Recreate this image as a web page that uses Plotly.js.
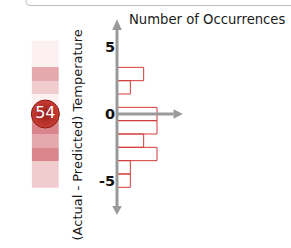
<!DOCTYPE html>
<html><head><meta charset="utf-8">
<script src="https://cdn.plot.ly/plotly-3.0.1.min.js"></script>
<style>html,body{margin:0;padding:0;background:#fff;}#chart{width:291px;height:248px;}</style>
</head><body><div id="chart"></div>
<script>
// ---- data ----
const binCenters = [5, 4, 3, 2, 1, 0, -1, -2, -3, -4, -5];
const occurrences = [0, 0, 2, 1, 0, 3, 3, 2, 3, 1, 1];
const yTickValues = [-5, 0, 5];
const yTickLabels = ['-5', '0', '5'];
const badgeValue = '54';
const xTitle = 'Number of Occurrences';
const yTitle = '(Actual - Predicted) Temperature';

// ---- geometry ----
const W = 291, H = 248, T = 7, B = 27;
const unit = 13.33;
const plotH = H - T - B;
const yHalf = plotH / 2 / unit;
const x0px = 117;
const xPad = 0.6;
const xDomStart = (x0px - xPad * unit) / W;
const xMax = (W - x0px) / unit;
const px = v => v / W;
const py = v => (H - B - v) / plotH;
const axisGray = '#9a9a9a';

const heat = {
  type: 'heatmap', x: [0], y: binCenters,
  z: occurrences.map(v => [v]),
  xaxis: 'x2', yaxis: 'y',
  zmin: 0, zmax: 3, showscale: false,
  colorscale: [[0, '#fcf0f0'], [1, '#da858c']],
  hoverinfo: 'skip'
};
const bars = {
  type: 'bar', orientation: 'h', y: binCenters, x: occurrences,
  width: 1, base: 0,
  marker: {color: 'rgba(255,255,255,0)', line: {color: '#d23a3a', width: 1}},
  xaxis: 'x', yaxis: 'y', hoverinfo: 'skip'
};
const badge = {
  type: 'scatter', mode: 'markers+text', x: [0], y: [0], text: [badgeValue],
  xaxis: 'x2', yaxis: 'y', cliponaxis: false,
  textposition: 'middle center',
  textfont: {family: 'DejaVu Sans', size: 16, color: '#ffffff'},
  marker: {size: 28, color: '#c93d33', gradient: {type: 'radial', color: '#951f1a'},
           line: {color: '#8a1c17', width: 1}},
  hoverinfo: 'skip'
};

const shapes = [
  {type: 'line', xref: 'x', yref: 'y', x0: 0, x1: 0, y0: -6.9, y1: 6.3, line: {color: axisGray, width: 3}},
  {type: 'path', xref: 'x', yref: 'y', path: 'M -0.36,6.3 L 0.36,6.3 L 0,7.1 Z', fillcolor: axisGray, line: {width: 0}},
  {type: 'path', xref: 'x', yref: 'y', path: 'M -0.36,-6.9 L 0.36,-6.9 L 0,-7.58 Z', fillcolor: axisGray, line: {width: 0}},
  {type: 'line', xref: 'x', yref: 'y', x0: 0, x1: 4.24, y0: 0, y1: 0, line: {color: axisGray, width: 3}},
  {type: 'path', xref: 'x', yref: 'y', path: 'M 4.24,-0.36 L 4.24,0.36 L 4.94,0 Z', fillcolor: axisGray, line: {width: 0}},
  {type: 'path', xref: 'paper', yref: 'paper',
   path: `M ${px(26)},${py(-5)} L ${px(26)},${py(1.5)} Q ${px(26)},${py(5.5)} ${px(30)},${py(5.5)} L ${px(300)},${py(5.5)}`,
   line: {color: '#bdbdbd', width: 1}}
];

const layout = {
  width: W, height: H,
  margin: {l: 0, r: 0, t: T, b: B},
  paper_bgcolor: '#ffffff', plot_bgcolor: 'rgba(0,0,0,0)',
  showlegend: false,
  xaxis: {domain: [xDomStart, 1], range: [-xPad, xMax], visible: false, fixedrange: true},
  xaxis2: {domain: [px(31.7), px(59)], range: [-0.5, 0.5], visible: false, anchor: 'y', fixedrange: true},
  yaxis: {range: [-yHalf, yHalf], anchor: 'free', position: px(x0px - 2), tickvals: yTickValues, ticktext: yTickLabels,
          showgrid: false, zeroline: false, showline: false, ticks: '',
          tickfont: {family: 'DejaVu Sans', size: 14.5, weight: 'bold', color: '#111'}, fixedrange: true},
  shapes: shapes,
  annotations: [
    {text: xTitle, xref: 'paper', yref: 'paper', x: px(127), y: py(20), xanchor: 'left', yanchor: 'middle',
     showarrow: false, font: {family: 'DejaVu Sans', size: 13.2, color: '#1a1a1a'}},
    {text: yTitle, xref: 'paper', yref: 'paper', x: px(76.5), y: py(135), xanchor: 'center', yanchor: 'middle',
     textangle: -90, showarrow: false, font: {family: 'DejaVu Sans', size: 13, color: '#1a1a1a'}}
  ]
};

Plotly.newPlot('chart', [heat, bars, badge], layout, {staticPlot: true, displayModeBar: false});
</script>
</body></html>
